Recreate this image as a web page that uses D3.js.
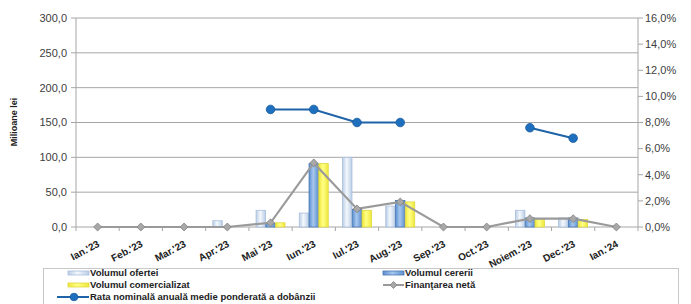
<!DOCTYPE html>
<html lang='ro'>
  <head>
    <meta charset='utf-8'>
    <style type='text/css'>
      body {margin: 0; background-color: #fff;}
      #chart {width: 691px; height: 304px;}
      text {font-family: "Liberation Sans", Arial, sans-serif;}
    </style>
  </head>
  <body>
    <div id='chart'><svg width='691' height='304'></svg></div>

    <script src='https://d3js.org/d3.v7.min.js'></script>
    <script type='text/javascript'>
      // data
      var months = ["Ian.'23", "Feb.'23", "Mar.'23", "Apr.'23", "Mai '23", "Iun.'23", "Iul.'23",
                    "Aug.'23", "Sep.'23", "Oct.'23", "Noiem.'23", "Dec.'23", "Ian.'24"];
      var offer      = [0, 0, 0, 9, 24, 20, 100, 30, 0, 0, 24, 13, 0];
      var demand     = [0, 0, 0, 0, 5, 91, 25, 38, 0, 0, 13, 13, 0];
      var traded     = [0, 0, 0, 0, 6, 91, 24, 36, 0, 0, 11, 11, 0];
      var netFinance = [0, 0, 0, 0, 6, 92, 26, 36, 0, 0, 12, 12, 0];
      var rate       = [null, null, null, null, 9.0, 9.0, 8.0, 8.0, null, null, 7.6, 6.8, null];
      var leftTicks  = [0, 50, 100, 150, 200, 250, 300];
      var rightTicks = [0, 2, 4, 6, 8, 10, 12, 14, 16];

      var svg = d3.select("svg");
      var plot = {left: 76, right: 638, top: 18, bottom: 227};

      var x = d3.scaleBand().domain(months).range([plot.left, plot.right]);
      var yL = d3.scaleLinear().domain([0, 300]).range([plot.bottom, plot.top]);
      var yR = d3.scaleLinear().domain([0, 16]).range([plot.bottom, plot.top]);
      var keys = ["offer", "demand", "traded"];
      var xSub = d3.scaleBand().domain(keys).range([-14.5, 14.5]).paddingInner(0.03);
      var fmt = function(v) { return d3.format(".1f")(v).replace(".", ","); };
      var mid = function(m) { return x(m) + x.bandwidth() / 2; };

      // gradients for the bar look
      var defs = svg.append("defs");
      function grad(id, edge, centre) {
        var g = defs.append("linearGradient").attr("id", id)
          .attr("x1", "0%").attr("x2", "100%").attr("y1", "0%").attr("y2", "0%");
        g.append("stop").attr("offset", "0%").attr("stop-color", edge);
        g.append("stop").attr("offset", "45%").attr("stop-color", centre);
        g.append("stop").attr("offset", "100%").attr("stop-color", edge);
      }
      grad("gOffer", "#b9cde6", "#f4f8fc");
      grad("gDemand", "#5d8fcf", "#a7c8ee");
      grad("gTraded", "#efe73a", "#ffff86");
      var fills = {offer: "url(#gOffer)", demand: "url(#gDemand)", traded: "url(#gTraded)"};
      var strokes = {offer: "#a9bfdc", demand: "#4a78b4", traded: "#e0d840"};

      // grid
      svg.append("g").selectAll("line").data(leftTicks).enter().append("line")
        .attr("x1", plot.left - 5).attr("x2", plot.right)
        .attr("y1", function(d) { return yL(d); }).attr("y2", function(d) { return yL(d); })
        .attr("stroke", "#a6a6a6").attr("stroke-width", 1);

      // left axis
      svg.append("line").attr("x1", plot.left).attr("x2", plot.left)
        .attr("y1", plot.top).attr("y2", plot.bottom).attr("stroke", "#a6a6a6");
      svg.append("g").selectAll("text").data(leftTicks).enter().append("text")
        .attr("x", 67).attr("y", function(d) { return yL(d); }).attr("dy", "0.35em")
        .attr("text-anchor", "end").attr("font-size", 11).attr("fill", "#404040")
        .text(fmt);
      svg.append("text").attr("transform", "translate(17," + 122 + ") rotate(-90)")
        .attr("text-anchor", "middle").attr("font-size", 9).attr("font-weight", "bold")
        .attr("fill", "#222").text("Milioane lei");

      // right axis
      svg.append("line").attr("x1", plot.right).attr("x2", plot.right)
        .attr("y1", plot.top).attr("y2", plot.bottom).attr("stroke", "#a6a6a6");
      svg.append("g").selectAll("line").data(rightTicks).enter().append("line")
        .attr("x1", plot.right).attr("x2", plot.right + 5)
        .attr("y1", function(d) { return yR(d); }).attr("y2", function(d) { return yR(d); })
        .attr("stroke", "#a6a6a6");
      svg.append("g").selectAll("text").data(rightTicks).enter().append("text")
        .attr("x", 645).attr("y", function(d) { return yR(d); }).attr("dy", "0.35em")
        .attr("font-size", 11).attr("fill", "#404040")
        .text(function(d) { return fmt(d) + "%"; });

      // x ticks and labels
      svg.append("g").selectAll("line").data(d3.range(months.length + 1)).enter().append("line")
        .attr("x1", function(i) { return plot.left + i * x.bandwidth(); })
        .attr("x2", function(i) { return plot.left + i * x.bandwidth(); })
        .attr("y1", plot.bottom).attr("y2", plot.bottom + 4).attr("stroke", "#a6a6a6");
      svg.append("g").selectAll("text").data(months).enter().append("text")
        .attr("transform", function(d) {
          return "translate(" + (mid(d) + 1) + "," + (plot.bottom + 16) + ") rotate(-28)";
        })
        .attr("text-anchor", "end").attr("dy", "0.35em").attr("font-size", 10)
        .attr("font-weight", "bold").attr("fill", "#222").text(function(d) { return d; });

      // bars
      var series = {offer: offer, demand: demand, traded: traded};
      var groups = svg.append("g").selectAll("g").data(months).enter().append("g")
        .attr("transform", function(d) { return "translate(" + mid(d) + ",0)"; });
      groups.selectAll("rect")
        .data(function(d, i) {
          return keys.map(function(k) { return {key: k, v: series[k][i]}; })
            .filter(function(b) { return b.v > 0; });
        })
        .enter().append("rect")
        .attr("x", function(d) { return xSub(d.key); })
        .attr("width", xSub.bandwidth())
        .attr("y", function(d) { return yL(d.v); })
        .attr("height", function(d) { return yL(0) - yL(d.v); })
        .attr("fill", function(d) { return fills[d.key]; })
        .attr("stroke", function(d) { return strokes[d.key]; })
        .attr("stroke-width", 0.8);

      // net financing line (left axis)
      var finPts = months.map(function(m, i) { return {m: m, v: netFinance[i]}; });
      var finLine = d3.line().x(function(d) { return mid(d.m); }).y(function(d) { return yL(d.v); });
      svg.append("path").datum(finPts).attr("d", finLine)
        .attr("fill", "none").attr("stroke", "#9a9a9a").attr("stroke-width", 2.2);
      svg.append("g").selectAll("path").data(finPts).enter().append("path")
        .attr("d", d3.symbol().type(d3.symbolDiamond2).size(40)())
        .attr("transform", function(d) { return "translate(" + mid(d.m) + "," + yL(d.v) + ")"; })
        .attr("fill", "#a8a8a8").attr("stroke", "#808080").attr("stroke-width", 0.8);

      // interest rate line (right axis)
      var ratePts = months.map(function(m, i) { return {m: m, v: rate[i]}; });
      var rateLine = d3.line().defined(function(d) { return d.v !== null; })
        .x(function(d) { return mid(d.m); }).y(function(d) { return yR(d.v); });
      svg.append("path").datum(ratePts).attr("d", rateLine)
        .attr("fill", "none").attr("stroke", "#1f63a8").attr("stroke-width", 2);
      svg.append("g").selectAll("circle")
        .data(ratePts.filter(function(d) { return d.v !== null; }))
        .enter().append("circle")
        .attr("cx", function(d) { return mid(d.m); }).attr("cy", function(d) { return yR(d.v); })
        .attr("r", 4.3)
        .attr("fill", "#1f6fbf").attr("stroke", "#185a9c").attr("stroke-width", 0.8);

      // legend
      var lg = svg.append("g");
      lg.append("rect").attr("x", 43.5).attr("y", 268.5).attr("width", 635).attr("height", 40)
        .attr("fill", "#fff").attr("stroke", "#c8c8c8");
      var items = [
        {name: "Volumul ofertei", kind: "offer", x: 68, y: 273},
        {name: "Volumul cererii", kind: "demand", x: 383, y: 273},
        {name: "Volumul comercializat", kind: "traded", x: 68, y: 285},
        {name: "Finanţarea netă", kind: "fin", x: 383, y: 285},
        {name: "Rata nominală anuală medie ponderată a dobânzii", kind: "rate", x: 68, y: 297}
      ];
      items.forEach(function(it) {
        if (it.kind === "fin") {
          lg.append("line").attr("x1", it.x).attr("x2", it.x + 21).attr("y1", it.y).attr("y2", it.y)
            .attr("stroke", "#9a9a9a").attr("stroke-width", 2);
          lg.append("path").attr("d", d3.symbol().type(d3.symbolDiamond2).size(30)())
            .attr("transform", "translate(" + (it.x + 10.5) + "," + it.y + ")")
            .attr("fill", "#a8a8a8").attr("stroke", "#808080").attr("stroke-width", 0.8);
        } else if (it.kind === "rate") {
          lg.append("line").attr("x1", it.x - 11).attr("x2", it.x + 21).attr("y1", it.y).attr("y2", it.y)
            .attr("stroke", "#1f63a8").attr("stroke-width", 2);
          lg.append("circle").attr("cx", it.x + 6).attr("cy", it.y).attr("r", 3.8)
            .attr("fill", "#1f6fbf").attr("stroke", "#185a9c").attr("stroke-width", 0.8);
        } else {
          lg.append("rect").attr("x", it.x).attr("y", it.y - 2).attr("width", 21).attr("height", 4)
            .attr("fill", fills[it.kind]).attr("stroke", strokes[it.kind]).attr("stroke-width", 0.8);
        }
        lg.append("text").attr("x", it.x + 22).attr("y", it.y).attr("dy", "0.35em")
          .attr("font-size", 9.5).attr("font-weight", "bold").attr("fill", "#222").text(it.name);
      });
    </script>
  </body>
</html>
